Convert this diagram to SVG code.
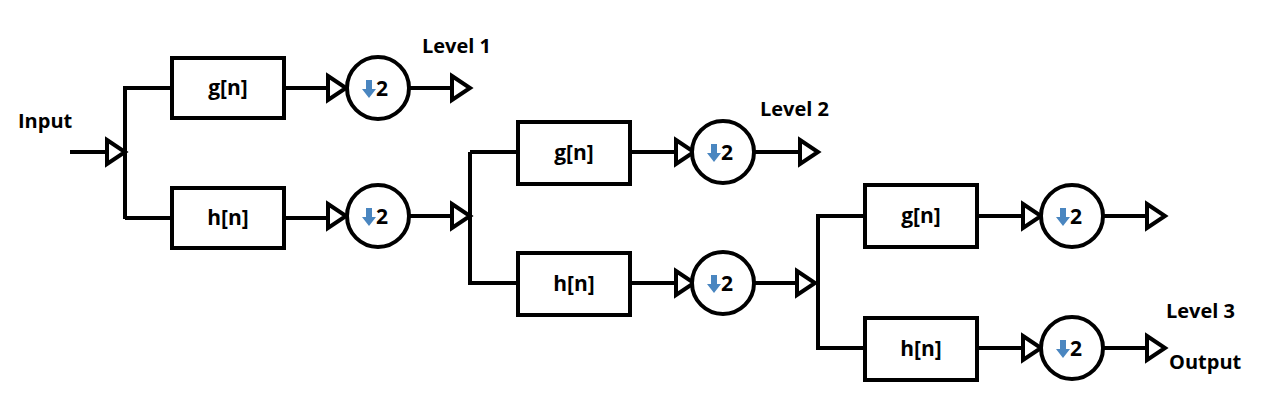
<svg xmlns="http://www.w3.org/2000/svg" xmlns:xlink="http://www.w3.org/1999/xlink" width="1281" height="404" viewBox="0 0 1281 404">
<style>
.ln{stroke:#000;stroke-width:4;fill:none}
.bx{stroke:#000;stroke-width:4;fill:#fff}
.t{font-family:"Open Sans","Liberation Sans",sans-serif;font-weight:bold;font-size:20px;fill:#000}
.bt{font-family:"Open Sans","Liberation Sans",sans-serif;font-weight:bold;font-size:21px;fill:#000;text-anchor:middle}
.two{font-family:"Open Sans","Liberation Sans",sans-serif;font-weight:bold;font-size:21px;fill:#000}
</style>
<defs>
<polygon id="tri" points="0,-12 18,0 0,12" fill="#fff" stroke="#000" stroke-width="4" stroke-linejoin="miter"/>
<path id="dar" d="M-3,-9 h6 v9 h4 l-7,9 l-7,-9 h4 z" fill="#4a86c0"/>
</defs>
<rect width="1281" height="404" fill="#fff"/>
<g id="connectors">
<path class="ln" d="M70,152 H107 M125,86 V219 M125,88 H172 M125,218 H172 M284,88 H328 M409,88 H452 M284,218 H328 M409,216 H452 M470,152 V285 M470,152 H518 M470,283 H518 M630,152 H676 M754,152 H800 M630,283 H676 M754,283 H797 M818,214 V350 M818,216 H865 M818,348 H865 M977,216 H1023 M1103,216 H1147 M977,348 H1023 M1103,348 H1147"/>
<use xlink:href="#tri" x="107" y="152"/>
<use xlink:href="#tri" x="328" y="88"/>
<use xlink:href="#tri" x="452" y="88"/>
<use xlink:href="#tri" x="328" y="216"/>
<use xlink:href="#tri" x="452" y="216"/>
<use xlink:href="#tri" x="676" y="152"/>
<use xlink:href="#tri" x="800" y="152"/>
<use xlink:href="#tri" x="676" y="283"/>
<use xlink:href="#tri" x="797" y="283"/>
<use xlink:href="#tri" x="1023" y="216"/>
<use xlink:href="#tri" x="1147" y="216"/>
<use xlink:href="#tri" x="1023" y="348"/>
<use xlink:href="#tri" x="1147" y="348"/>
</g>
<g id="g1"><rect class="bx" x="172" y="58" width="112" height="60"/><text class="bt" x="228" y="95">g[n]</text></g>
<g id="h1"><rect class="bx" x="172" y="188" width="112" height="60"/><text class="bt" x="228" y="225">h[n]</text></g>
<g id="g2"><rect class="bx" x="518" y="122" width="112" height="62"/><text class="bt" x="574" y="160">g[n]</text></g>
<g id="h2"><rect class="bx" x="518" y="253" width="112" height="62"/><text class="bt" x="574" y="291">h[n]</text></g>
<g id="g3"><rect class="bx" x="865" y="185" width="112" height="62"/><text class="bt" x="921" y="223">g[n]</text></g>
<g id="h3"><rect class="bx" x="865" y="318" width="112" height="62"/><text class="bt" x="921" y="356">h[n]</text></g>
<g id="d1"><circle class="bx" cx="378" cy="88" r="31"/><use xlink:href="#dar" x="369" y="89"/><text class="two" x="376" y="96">2</text></g>
<g id="d2"><circle class="bx" cx="378" cy="216" r="31"/><use xlink:href="#dar" x="369" y="217"/><text class="two" x="376" y="224">2</text></g>
<g id="d3"><circle class="bx" cx="723" cy="152" r="31"/><use xlink:href="#dar" x="714" y="153"/><text class="two" x="721" y="160">2</text></g>
<g id="d4"><circle class="bx" cx="723" cy="283" r="31"/><use xlink:href="#dar" x="714" y="284"/><text class="two" x="721" y="291">2</text></g>
<g id="d5"><circle class="bx" cx="1072" cy="216" r="31"/><use xlink:href="#dar" x="1063" y="217"/><text class="two" x="1070" y="224">2</text></g>
<g id="d6"><circle class="bx" cx="1072" cy="348" r="31"/><use xlink:href="#dar" x="1063" y="349"/><text class="two" x="1070" y="356">2</text></g>
<g id="labels">
<text class="t" x="18" y="128">Input</text>
<text class="t" x="422" y="53">Level 1</text>
<text class="t" x="760" y="116">Level 2</text>
<text class="t" x="1166" y="318">Level 3</text>
<text class="t" x="1169" y="369">Output</text>
</g>
</svg>
